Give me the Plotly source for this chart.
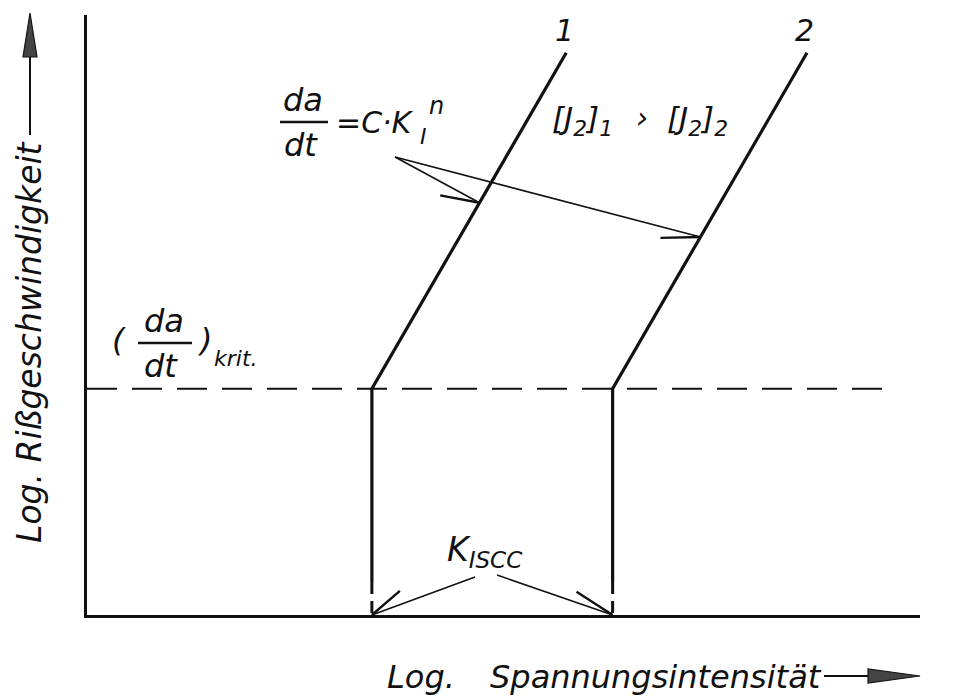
import math
import plotly.graph_objects as go

# ---- diagram values (log-log schematic, arbitrary units) ----
curve_names = ["1", "2"]
K_Iscc = [3.42, 6.31]           # log K_ISCC of curve 1 and curve 2
log_v_krit = 3.77               # log (da/dt)_krit
n_exp = 2.4                     # slope of the branch da/dt = C*K^n in log-log
log_v_top = 9.37                # upper end of the drawn branches
log_v_solid_end = 0.55          # vertical branch drawn dashed below this level
crit_line_end = 9.7             # right end of the dashed (da/dt)_krit line
formula_arrow_levels = [6.87, 6.30]   # where the formula arrows meet curves 1 / 2
x_range = [0, 10]
y_range = [0, 10]

y_title = "Log. Rißgeschwindigkeit"
x_title_parts = ["Log.", "Spannungsintensität"]

# ---- figure geometry ----
W, H = 953, 700
ML, MR, MT, MB = 87, 33, 15, 85
PW, PH = W - ML - MR, H - MT - MB
FONT = "DejaVu Sans"
INK = "#111111"


def to_px(x, y):
    """data -> page pixel position (same mapping plotly uses for the axes)"""
    px = ML + (x - x_range[0]) / (x_range[1] - x_range[0]) * PW
    py = MT + (y_range[1] - y) / (y_range[1] - y_range[0]) * PH
    return px, py


def pxx(px):
    return (px - ML) / PW


def pxy(py):
    return (H - MB - py) / PH


def branch_x(k, logv):
    return k + (logv - log_v_krit) / n_exp


fig = go.Figure()

# curves 1 and 2: vertical threshold at K_ISCC, then the power-law branch
for k in K_Iscc:
    fig.add_trace(go.Scatter(
        x=[k, k, branch_x(k, log_v_top)],
        y=[log_v_solid_end, log_v_krit, log_v_top],
        mode="lines", line=dict(color=INK, width=3.2),
        hoverinfo="skip", showlegend=False))
    fig.add_trace(go.Scatter(
        x=[k, k], y=[log_v_solid_end, y_range[0]],
        mode="lines", line=dict(color=INK, width=3, dash="12px,7px"),
        hoverinfo="skip", showlegend=False))

# critical crack growth rate
fig.add_trace(go.Scatter(
    x=[x_range[0], crit_line_end], y=[log_v_krit, log_v_krit],
    mode="lines", line=dict(color=INK, width=2, dash="30px,15px"),
    hoverinfo="skip", showlegend=False))

ann = []
shapes = []


def text(px, py, s, size, xanchor="center", yanchor="middle", angle=0):
    ann.append(dict(x=pxx(px), y=pxy(py), xref="paper", yref="paper",
                    text=s, showarrow=False, xanchor=xanchor, yanchor=yanchor,
                    textangle=angle,
                    font=dict(family=FONT, size=size, color=INK, style="italic")))


def hline(x0, x1, py, width=2.5):
    shapes.append(dict(type="line", xref="paper", yref="paper",
                       x0=pxx(x0), x1=pxx(x1), y0=pxy(py), y1=pxy(py),
                       line=dict(color=INK, width=width)))


def seg_from(xd, yd, dx, dy, width):
    """segment anchored at data point (xd, yd), other end offset by (dx, dy) px
    (dy measured downwards on the page)"""
    shapes.append(dict(type="line", xref="x", yref="y",
                       xsizemode="pixel", ysizemode="pixel",
                       xanchor=xd, yanchor=yd,
                       x0=0, y0=0, x1=dx, y1=-dy,
                       line=dict(color=INK, width=width)))


def pointer(xd, yd, start_px, barb_rot, barb_len, w_main=1.6, w_barb=2.4):
    """line from a label to a point on the diagram, with a one-sided barb"""
    tx, ty = to_px(xd, yd)
    ax, ay = start_px[0] - tx, start_px[1] - ty
    seg_from(xd, yd, ax, ay, w_main)
    ang = math.atan2(ay, ax) + math.radians(barb_rot)
    seg_from(xd, yd, barb_len * math.cos(ang), barb_len * math.sin(ang), w_barb)


# curve numbers at the top of each branch
for name, k in zip(curve_names, K_Iscc):
    tx, _ = to_px(branch_x(k, log_v_top), log_v_top)
    text(tx - 2, 31, name, 30)

# da/dt = C*K_I^n
text(303, 121, "da", 32, yanchor="bottom")
hline(280, 328, 122)
text(301, 124, "dt", 32, yanchor="top")
text(334, 122, "=C·K", 30, xanchor="left")
text(436, 106, "n", 24)
text(423, 136, "I", 22)
for lv, k, rot in zip(formula_arrow_levels, K_Iscc, [-17.7, -16.0]):
    pointer(branch_x(k, lv), lv, (395, 157), rot, 40)

# [J2]1 > [J2]2
text(582, 120, "[J<sub>2</sub>]<sub>1</sub>", 31)
text(642, 118, "›", 30)
text(697, 120, "[J<sub>2</sub>]<sub>2</sub>", 31)

# (da/dt)_krit
text(119, 340, "(", 32)
text(164, 342, "da", 32, yanchor="bottom")
hline(138, 192, 343)
text(161, 345, "dt", 32, yanchor="top")
text(205, 340, ")", 32)
text(212, 358, "krit.", 22, xanchor="left")

# K_ISCC with pointers to both thresholds
text(485, 551, "K<sub>ISCC</sub>", 33)
pointer(K_Iscc[0], y_range[0], (475, 577), -20.6, 37)
pointer(K_Iscc[1], y_range[0], (497, 575), 13.8, 43)

# axis titles with their arrows
text(30, 342, y_title, 33, angle=-90)
shapes.append(dict(type="line", xref="paper", yref="paper",
                   x0=pxx(30), x1=pxx(30), y0=pxy(135), y1=pxy(56),
                   line=dict(color=INK, width=2)))
shapes.append(dict(type="path", xref="paper", yref="paper",
                   path=f"M {pxx(30)} {pxy(13)} L {pxx(23)} {pxy(57)} "
                        f"L {pxx(37)} {pxy(57)} Z",
                   fillcolor="#444444", line=dict(color=INK, width=1.2)))

text(385, 677, x_title_parts[0], 32, xanchor="left")
text(488, 677, x_title_parts[1], 32, xanchor="left")
shapes.append(dict(type="line", xref="paper", yref="paper",
                   x0=pxx(824), x1=pxx(869), y0=pxy(676), y1=pxy(676),
                   line=dict(color=INK, width=2)))
shapes.append(dict(type="path", xref="paper", yref="paper",
                   path=f"M {pxx(920)} {pxy(676)} L {pxx(868)} {pxy(669)} "
                        f"L {pxx(868)} {pxy(683)} Z",
                   fillcolor="#444444", line=dict(color=INK, width=1.2)))

axis_style = dict(showline=True, linecolor=INK, linewidth=3, mirror=False,
                  showgrid=False, zeroline=False, ticks="",
                  showticklabels=False, fixedrange=True)

fig.update_layout(
    width=W, height=H,
    margin=dict(l=ML, r=MR, t=MT, b=MB, pad=0),
    paper_bgcolor="white", plot_bgcolor="white",
    xaxis=dict(range=x_range, **axis_style),
    yaxis=dict(range=y_range, **axis_style),
    annotations=ann, shapes=shapes, showlegend=False,
)

fig.write_html("out.html")
